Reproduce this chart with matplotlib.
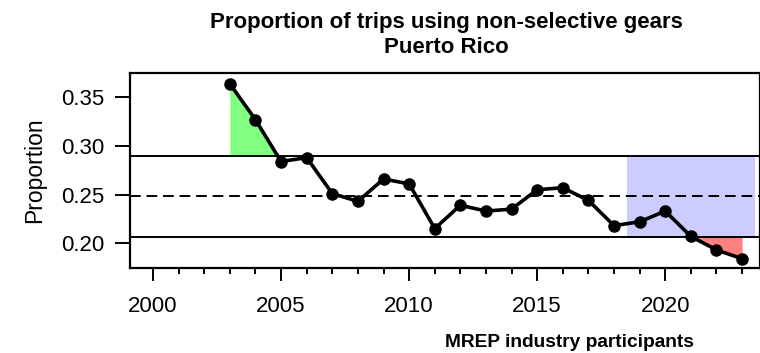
import matplotlib
matplotlib.use("Agg")
import matplotlib.pyplot as plt
from matplotlib.ticker import MultipleLocator
import numpy as np

plt.rcParams["font.family"] = ["Liberation Sans", "DejaVu Sans"]

years = np.arange(2003, 2024)
proportion = [0.364, 0.327, 0.284, 0.288, 0.251, 0.243, 0.266, 0.261, 0.215,
              0.239, 0.233, 0.235, 0.255, 0.257, 0.244, 0.218, 0.222, 0.233,
              0.207, 0.193, 0.184]
mean_line = 0.248
upper_line = 0.290
lower_line = 0.206
recent_window = (2018.5, 2023.5)

fig = plt.figure(figsize=(7.6, 3.53), dpi=100)
ax = fig.add_axes([0.171, 0.241, 0.829, 0.552])

y = np.array(proportion)
# shaded recent-years box between the limit lines
ax.fill_between(list(recent_window), lower_line, upper_line,
                color="#ccccff", lw=0, zorder=1)
# above / below the limits
ax.fill_between(years, y, upper_line, where=y > upper_line, interpolate=True,
                color="#80ff80", lw=0, zorder=2)
ax.fill_between(years, y, lower_line, where=y < lower_line, interpolate=True,
                color="#ff8080", lw=0, zorder=2)

ax.axhline(upper_line, color="black", lw=1.4, zorder=3)
ax.axhline(lower_line, color="black", lw=1.4, zorder=3)
ax.axhline(mean_line, color="black", lw=1.4, ls=(0, (5.5, 3)), zorder=3)

ax.plot(years, y, "-o", color="black", lw=2.6, ms=8, zorder=4)

ax.set_xlim(1999.1, 2023.7)
ax.set_ylim(0.1745, 0.375)
ax.set_yticks([0.20, 0.25, 0.30, 0.35])
ax.set_yticklabels(["0.20", "0.25", "0.30", "0.35"])
ax.set_xticks([2000, 2005, 2010, 2015, 2020])
ax.xaxis.set_minor_locator(MultipleLocator(1))
ax.tick_params(axis="x", which="major", length=9.5, width=1.4, pad=11, labelsize=16)
ax.tick_params(axis="x", which="minor", length=4.5, width=1.4)
ax.tick_params(axis="y", which="major", length=10.5, width=1.4, pad=8, labelsize=16)
for s in ax.spines.values():
    s.set_linewidth(1.6)

ax.set_ylabel("Proportion", fontsize=16.5, labelpad=11)
fig.text(0.587, 0.9207, "Proportion of trips using non-selective gears",
         ha="center", va="baseline", fontsize=16, fontweight="bold")
fig.text(0.587, 0.8499, "Puerto Rico",
         ha="center", va="baseline", fontsize=16, fontweight="bold")
fig.text(0.749, 0.031, "MREP industry participants", ha="center", va="center",
         fontsize=13.8, fontweight="bold")

fig.savefig("out.png", dpi=100)
